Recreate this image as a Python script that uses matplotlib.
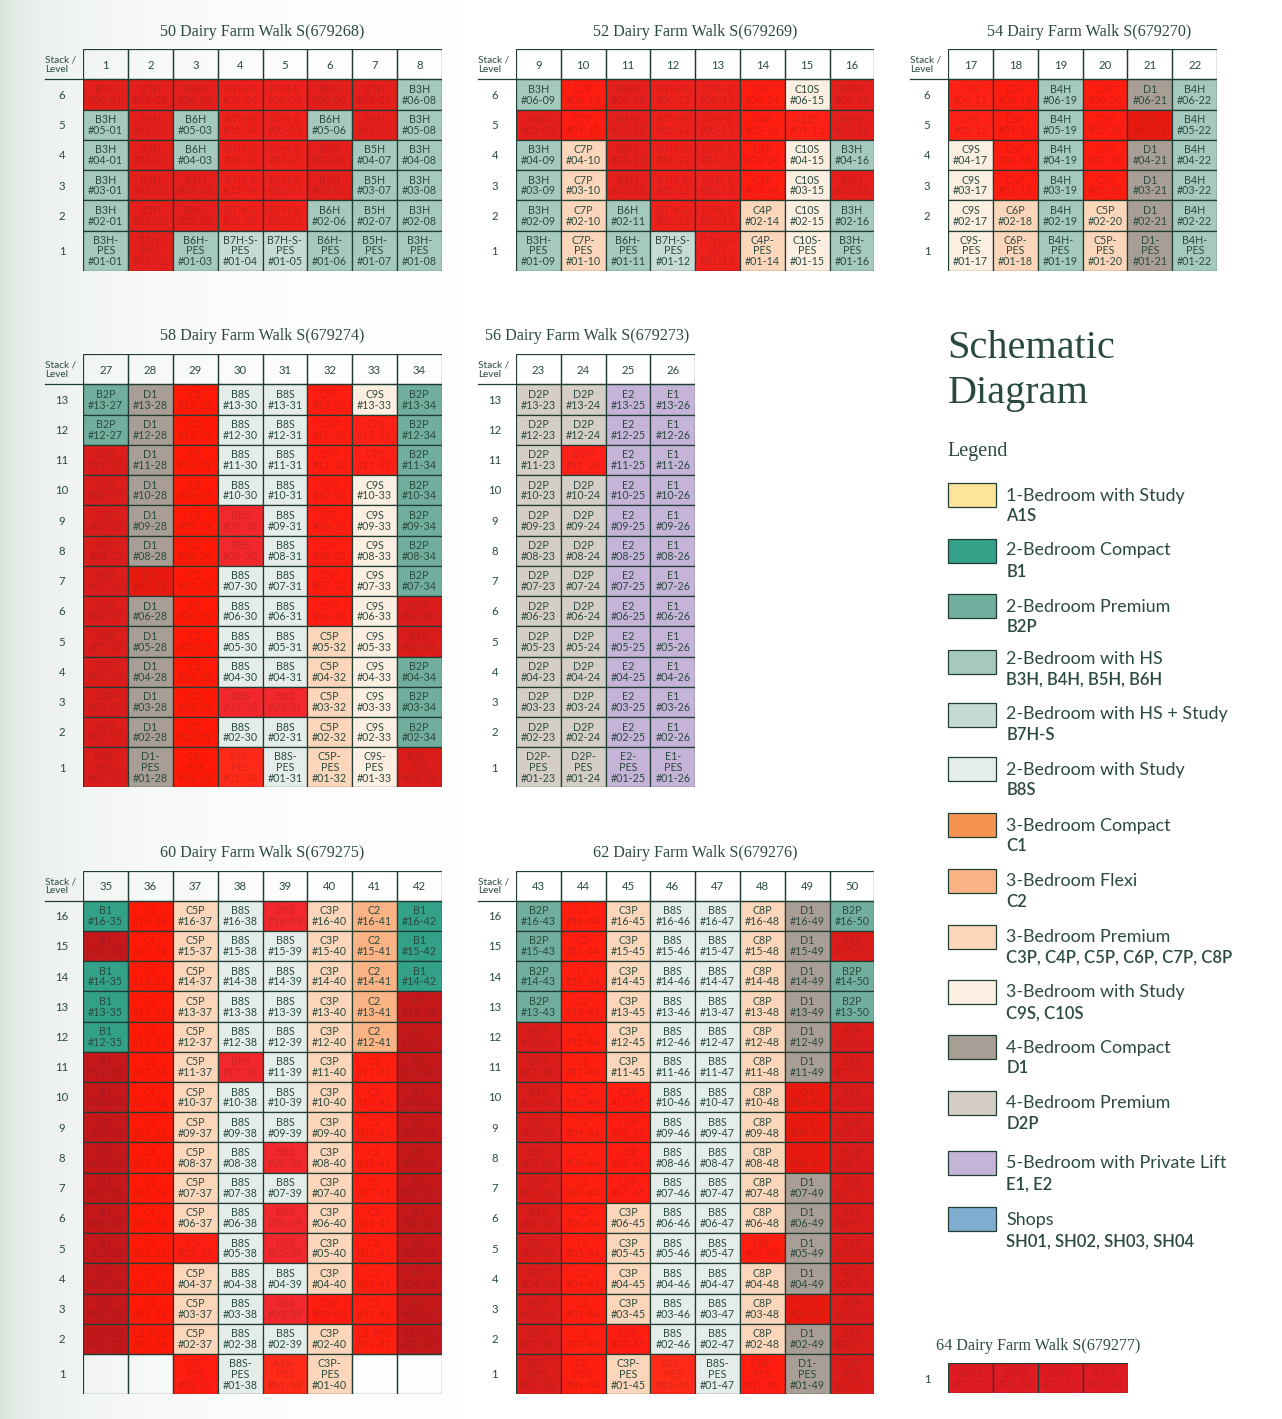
import numpy as np
import matplotlib
matplotlib.use("Agg")
import matplotlib.pyplot as plt
from matplotlib.patches import Rectangle
from matplotlib.colors import to_rgb, to_hex

W, H = 1282, 1419
INK = "#2b4a3f"
LINE = "#1f3d33"
TITLE_FONT = "Liberation Serif"
BODY_FONT = "Lato"

# ---------- legend ----------
legend_names = ["1-Bedroom with Study", "2-Bedroom Compact", "2-Bedroom Premium", "2-Bedroom with HS",
                "2-Bedroom with HS + Study", "2-Bedroom with Study", "3-Bedroom Compact", "3-Bedroom Flexi",
                "3-Bedroom Premium", "3-Bedroom with Study", "4-Bedroom Compact", "4-Bedroom Premium",
                "5-Bedroom with Private Lift", "Shops"]
legend_codes = ["A1S", "B1", "B2P", "B3H, B4H, B5H, B6H", "B7H-S", "B8S", "C1", "C2",
                "C3P, C4P, C5P, C6P, C7P, C8P", "C9S, C10S", "D1", "D2P", "E1, E2", "SH01, SH02, SH03, SH04"]
legend_colors = ["#fde49a", "#33a088", "#72ae9e", "#a5c9bd", "#c5dbd4", "#e4ede9", "#f79352", "#fbb386",
                 "#fcd6bb", "#fdeee2", "#a89e95", "#d5cec6", "#c5b3d8", "#7fadd0"]
sold_colors = ["#ff2a18", "#c4181a", "#da1c1a", "#e41e1a", "#ee201c", "#f2282c", "#ff1a08", "#ff1e10",
               "#ff1c10", "#ff2016", "#e81a10", "#ff2018", "#ff2020", "#e01a22"]
legend_swatch_top = [483.3, 539.3, 594.3, 650.3, 702.7, 757.3, 813.3, 869.3, 925, 980, 1035.3, 1091.3, 1151.3, 1207.3]
legend_line1_y = [495.5, 550.5, 606.5, 658.5, 714.5, 769.5, 825.5, 880.5, 936.5, 991.5, 1047.5, 1103.5, 1163.5, 1219.5]
legend_line2_y = [516.2, 572.2, 627.2, 679.2, 735.2, 790.2, 846.2, 902.2, 957.2, 1013.2, 1068.2, 1124.2, 1184.2, 1241.2]

fill_of, red_of = {}, {}
for codes, c, r in zip(legend_codes, legend_colors, sold_colors):
    for code in codes.split(", "):
        fill_of[code], red_of[code] = c, r

# ---------- blocks ----------
stacks_50 = [1, 2, 3, 4, 5, 6, 7, 8]
types_50 = ["B3H", "B5H", "B6H", "B7H-S", "B7H-S", "B6H", "B5H", "B3H"]
sold_50 = [[6], [6, 5, 4, 3, 2, 1], [6, 3, 2], [6, 5, 4, 3, 2], [6, 5, 4, 3, 2], [6, 4, 3], [6, 5], []]

stacks_52 = [9, 10, 11, 12, 13, 14, 15, 16]
types_52 = ["B3H", "C7P", "B6H", "B7H-S", "B7H-S", "C4P", "C10S", "B3H"]
sold_52 = [[5], [6, 5], [6, 5, 4, 3], [6, 5, 4, 3, 2], [6, 5, 4, 3, 2, 1], [6, 5, 4, 3], [5], [6, 5, 3]]

stacks_54 = [17, 18, 19, 20, 21, 22]
types_54 = ["C9S", "C6P", "B4H", "C5P", "D1", "B4H"]
sold_54 = [[6, 5], [6, 5, 4, 3], [], [6, 5, 4, 3], [5], []]

stacks_58 = [27, 28, 29, 30, 31, 32, 33, 34]
types_58 = ["B2P", "D1", "C1", "B8S", "B8S", "C5P", "C9S", "B2P"]
sold_58 = [[11, 10, 9, 8, 7, 6, 5, 4, 3, 2, 1], [7], [13, 12, 11, 10, 9, 8, 7, 6, 5, 4, 3, 2, 1],
           [9, 8, 3, 1], [3], [13, 12, 11, 10, 9, 8, 7, 6], [12, 11], [6, 5, 1]]

stacks_56 = [23, 24, 25, 26]
types_56 = ["D2P", "D2P", "E2", "E1"]
sold_56 = [[], [11], [], []]

stacks_60 = [35, 36, 37, 38, 39, 40, 41, 42]
types_60 = ["B1", "C1", "C5P", "B8S", "B8S", "C3P", "C2", "B1"]
sold_60 = [[15, 11, 10, 9, 8, 7, 6, 5, 4, 3, 2], [16, 15, 14, 13, 12, 11, 10, 9, 8, 7, 6, 5, 4, 3, 2],
           [5, 1], [11], [16, 8, 6, 5, 3, 1], [3], [11, 10, 9, 8, 7, 6, 5, 4, 3, 2],
           [13, 12, 11, 10, 9, 8, 7, 6, 5, 4, 3, 2]]

stacks_62 = [43, 44, 45, 46, 47, 48, 49, 50]
types_62 = ["B2P", "C2", "C3P", "B8S", "B8S", "C8P", "D1", "B2P"]
sold_62 = [[12, 11, 10, 9, 8, 7, 6, 5, 4, 3, 2, 1], [16, 15, 14, 13, 12, 11, 10, 9, 8, 7, 6, 5, 4, 3, 2, 1],
           [10, 9, 8, 7, 2], [1], [], [5, 1], [10, 9, 8, 3], [15, 12, 11, 10, 9, 8, 7, 6, 5, 4, 3, 2, 1]]

stacks_64 = [51, 52, 53, 54]
types_64 = ["SH01", "SH02", "SH03", "SH04"]
sold_64 = [[1], [1], [1], [1]]

a1s_stacks = [30, 39, 46]            # level 1 of these stacks is A1S
no_ground_stacks = [35, 36, 41, 42]  # these stacks start at level 2 (PES)

COL_W = 44.8
block_layout = [
    # title, title centre x, stacks, types, sold, levels, left, header top, grid bottom
    ("50 Dairy Farm Walk S(679268)", 262.5, stacks_50, types_50, sold_50, 6, 83.3, 49.3, 270.7),
    ("52 Dairy Farm Walk S(679269)", 695, stacks_52, types_52, sold_52, 6, 516.0, 49.3, 270.7),
    ("54 Dairy Farm Walk S(679270)", 1089.5, stacks_54, types_54, sold_54, 6, 948.3, 49.3, 270.7),
    ("58 Dairy Farm Walk S(679274)", 262.5, stacks_58, types_58, sold_58, 13, 83.3, 354.3, 787.3),
    ("56 Dairy Farm Walk S(679273)", 587.5, stacks_56, types_56, sold_56, 13, 516.0, 354.3, 787.3),
    ("60 Dairy Farm Walk S(679275)", 262.5, stacks_60, types_60, sold_60, 16, 83.3, 870.7, 1394.0),
    ("62 Dairy Farm Walk S(679276)", 695, stacks_62, types_62, sold_62, 16, 516.0, 870.7, 1394.0),
]

plt.rcParams["font.family"] = [BODY_FONT, "DejaVu Sans"]
fig = plt.figure(figsize=(W / 100, H / 100), dpi=100, facecolor="white")


def fx(x):
    return x / W


def fy(y):
    return 1 - y / H


# soft sage wash at the left edge
bg = fig.add_axes([0, 0, 1, 1], zorder=0)
bg.set_axis_off()
xs = np.linspace(0, W, 642)
stops_x = [0, 15, 40, 80, 140, 220, 320, 460]
stops_v = [0.0, 0.22, 0.45, 0.62, 0.76, 0.87, 0.95, 1.0]
t = np.interp(xs, stops_x, stops_v)
c0 = np.array(to_rgb("#dbe5de"))
grad = c0[None, :] * (1 - t[:, None]) + t[:, None]
bg.imshow(grad[None, :, :], extent=[0, 1, 0, 1], aspect="auto")
bg.set_xlim(0, 1)
bg.set_ylim(0, 1)


def mix(a, b, f):
    a, b = np.array(to_rgb(a)), np.array(to_rgb(b))
    return to_hex(a * (1 - f) + b * f)


def draw_block(stacks, types, sold, levels, left, top, bottom, header=30.0, base=40.0, show_header=True):
    n = len(stacks)
    right = left + n * COL_W
    ax = fig.add_axes([fx(left), fy(bottom), (right - left) / W, (bottom - top) / H], zorder=2)
    ax.patch.set_alpha(0)
    for s in ax.spines.values():
        s.set_visible(False)
    ax.set_xlim(0, n)
    ax.set_ylim(bottom - top, 0)
    head = header if show_header else 0.0
    row = (bottom - top - head - base) / (levels - 1) if levels > 1 else bottom - top - head
    edges = [head + row * i for i in range(levels)] + [bottom - top]
    centers = [(edges[i] + edges[i + 1]) / 2 for i in range(levels)]
    for j, (st, ty, sd) in enumerate(zip(stacks, types, sold)):
        if show_header:
            ax.add_patch(Rectangle((j, 0), 1, head, fc="none", ec=LINE, lw=0.9, zorder=3))
        for i in range(levels):
            lvl = levels - i
            cell_type = ty
            if lvl == 1 and st in a1s_stacks:
                cell_type = "A1S"
            blank = lvl == 1 and st in no_ground_stacks
            is_sold = lvl in sd
            if blank:
                fc = "none"
            elif is_sold:
                fc = red_of[cell_type]
            else:
                fc = fill_of[cell_type]
            ax.add_patch(Rectangle((j, edges[i]), 1, edges[i + 1] - edges[i], fc=fc, ec=LINE, lw=0.9, zorder=2))
            if blank:
                continue
            unit = f"#{lvl:02d}-{st:02d}"
            if cell_type.startswith("SH"):
                label = f"{cell_type}\n{unit}"
            elif lvl == 1:
                label = f"{cell_type}-\nPES\n{unit}"
            elif lvl == 2 and st in no_ground_stacks:
                label = f"{cell_type}-PES\n{unit}"
            else:
                label = f"{cell_type}\n{unit}"
            color = mix(red_of[cell_type], "#6a1a18", 0.24) if is_sold else INK
            ax.text(j + 0.5, centers[i] + 0.3, label, ha="center", va="center", fontsize=7.7,
                    color=color, linespacing=0.98, zorder=4)
    # axis labels: levels on the left, stack numbers in the header row
    ax.set_yticks([c + 0.8 for c in centers])
    ax.set_yticklabels([str(levels - i) for i in range(levels)], fontsize=8.2, color=INK, ha="center", va="center")
    ax.tick_params(axis="y", length=0, pad=15.3)
    if show_header:
        ax.xaxis.tick_top()
        ax.set_xticks([j + 0.5 for j in range(n)])
        ax.set_xticklabels([str(s) for s in stacks], fontsize=8.2, color=INK, va="center")
        ax.tick_params(axis="x", length=0, pad=-11.5)
    else:
        ax.set_xticks([])
    return ax


for title, title_x, stacks, types, sold, levels, left, top, bottom in block_layout:
    draw_block(stacks, types, sold, levels, left, top, bottom)
    fig.text(fx(title_x), fy(top - 17.8), title, family=TITLE_FONT, fontsize=11.6,
             color=INK, ha="center", va="center", zorder=5)
    # Stack / Level corner
    fig.text(fx(left - 38), fy(top + 15.5), "Stack /\nLevel", fontsize=7.2, color=INK, ha="left", va="center",
             linespacing=0.95, zorder=5)
    fig.add_artist(plt.Line2D([fx(left - 38), fx(left)], [fy(top + 30), fy(top + 30)], color=LINE, lw=0.9, zorder=5))

# shops block
draw_block(stacks_64, types_64, sold_64, 1, 948.3, 1363.3, 1393.3, show_header=False)
fig.text(fx(1037.7), fy(1346), "64 Dairy Farm Walk S(679277)", family=TITLE_FONT, fontsize=11.6,
         color=INK, ha="center", va="center", zorder=5)

# schematic heading
fig.text(fx(947.5), fy(348), "Schematic", family=TITLE_FONT, fontsize=29, color=INK, ha="left", va="center", zorder=5)
fig.text(fx(947.5), fy(393), "Diagram", family=TITLE_FONT, fontsize=29, color=INK, ha="left", va="center", zorder=5)
fig.text(fx(947.5), fy(451.5), "Legend", family=TITLE_FONT, fontsize=14.5, color=INK, ha="left", va="center", zorder=5)

# legend
lg = fig.add_axes([0, 0, 1, 1], zorder=3)
lg.set_axis_off()
lg.patch.set_alpha(0)
lg.set_xlim(0, W)
lg.set_ylim(H, 0)
for name, code, color, top, y1, y2 in zip(legend_names, legend_codes, legend_colors,
                                          legend_swatch_top, legend_line1_y, legend_line2_y):
    lg.add_patch(Rectangle((948.3, top), 47.4, 23.8, fc=color, ec=LINE, lw=0.9))
    lg.text(1006.5, y1, name, fontsize=12.9, color=INK, ha="left", va="center")
    lg.text(1006.5, y2, code, fontsize=12.0, color=INK, ha="left", va="center", weight="semibold")

fig.savefig("out.png", dpi=100, facecolor="white")
